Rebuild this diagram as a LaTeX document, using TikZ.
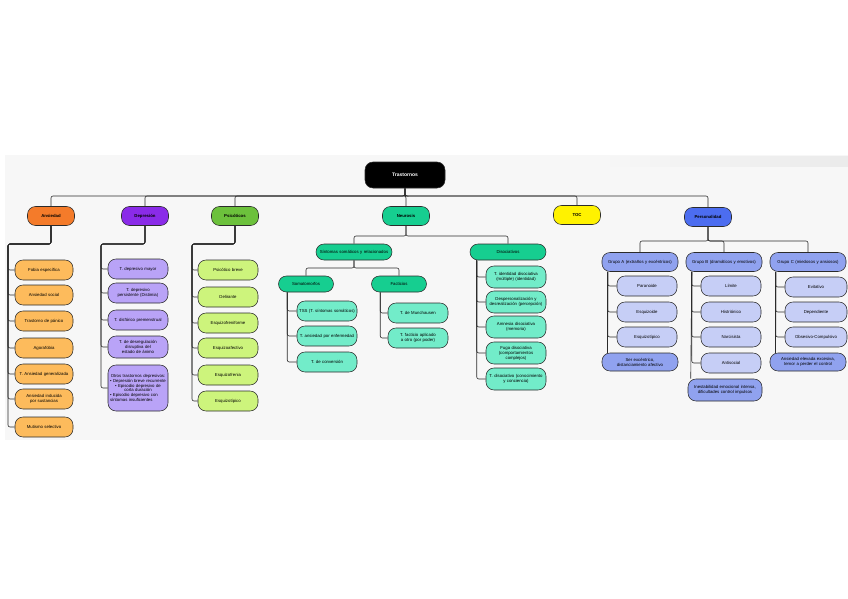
\documentclass[tikz,border=0pt]{standalone}
\usepackage{fontspec}
\setmainfont{Liberation Sans}
\usetikzlibrary{positioning}
\definecolor{ink}{HTML}{2B2B2B}
\definecolor{panel}{HTML}{F7F7F7}
\definecolor{ansdark}{HTML}{F47B2A}
\definecolor{anslight}{HTML}{FDBB5C}
\definecolor{depdark}{HTML}{8A2BE8}
\definecolor{deplight}{HTML}{B9A3F7}
\definecolor{psidark}{HTML}{6CC13C}
\definecolor{psilight}{HTML}{CDF47C}
\definecolor{neudark}{HTML}{16CE90}
\definecolor{neulight}{HTML}{72ECC9}
\definecolor{tocyellow}{HTML}{FFF200}
\definecolor{perdark}{HTML}{4C6DF0}
\definecolor{permid}{HTML}{90A2EF}
\definecolor{perlight}{HTML}{C6CEF6}
\hyphenpenalty=10000
\exhyphenpenalty=10000
\tikzset{
  box/.style={draw=ink,rounded corners=8pt,line width=.55pt,align=center,inner sep=1pt,
    font=\fontsize{4.3}{4.9}\selectfont},
  root/.style={box,fill=black,text=white,minimum width=80pt,minimum height=26pt,
    font=\fontsize{5}{6}\selectfont\bfseries},
  head/.style={box,minimum width=47pt,minimum height=19pt,font=\fontsize{4.3}{4.9}\selectfont\bfseries},
  sub/.style={box,minimum width=76pt,minimum height=17pt,text width=72pt},
  leaf/.style={box,minimum width=60pt,minimum height=20pt,text width=56pt},
  link/.style={draw=ink,line width=.6pt,rounded corners=2pt},
}
\begin{document}
\begin{tikzpicture}[x=1pt,y=-1pt]
  \useasboundingbox (0,0) rectangle (848,599);
  \fill[panel] (5,155) rectangle (848,440);
  \shade[left color=panel,right color=black!8] (600,156) rectangle (848,166);

  % raiz y ramas principales
  \node[root] (tras) at (405,175) {Trastornos};
  \node[head,fill=ansdark] (ans) at (51,216) {Ansiedad};
  \node[head,fill=depdark] (dep) at (145,216) {Depresión};
  \node[head,fill=psidark] (psi) at (235,216) {Psicóticos};
  \node[head,fill=neudark] (neu) at (406,216) {Neurosis};
  \node[head,fill=tocyellow] (toc) at (577,215) {TOC};
  \node[head,fill=perdark] (per) at (708,217) {Personalidad};
  \coordinate (tbus) at (405,196);
  \foreach \n in {ans,dep,psi,neu,toc,per}
    \draw[link] (tras.south) -- (tras.south |- tbus) -| (\n.north);

  % ansiedad
  \node[leaf,fill=anslight,minimum width=58pt,text width=54pt] (a1) at (44,270) {Fobia específica};
  \node[leaf,fill=anslight,minimum width=58pt,text width=54pt] (a2) at (44,295) {Ansiedad social};
  \node[leaf,fill=anslight,minimum width=58pt,text width=54pt] (a3) at (44,321) {Trastorno de pánico};
  \node[leaf,fill=anslight,minimum width=58pt,text width=54pt] (a4) at (44,348) {Agorafobia};
  \node[leaf,fill=anslight,minimum width=58pt,text width=54pt] (a5) at (44,374) {T. Ansiedad generalizada};
  \node[leaf,fill=anslight,minimum width=58pt,text width=54pt] (a6) at (44,399) {Ansiedad inducida por sustancias};
  \node[leaf,fill=anslight,minimum width=58pt,text width=54pt] (a7) at (44,427) {Mutismo selectivo};
  \coordinate (abus) at (8,244);
  \foreach \n in {a1,a2,a3,a4,a5,a6,a7}
    \draw[link] (ans.south) |- (abus) |- (\n.west);

  % depresion
  \node[leaf,fill=deplight] (d1) at (138,269) {T. depresivo mayor};
  \node[leaf,fill=deplight] (d2) at (138,293) {T. depresivo persistente (Distimia)};
  \node[leaf,fill=deplight] (d3) at (138,320) {T. disfórico premenstrual};
  \node[leaf,fill=deplight,minimum height=22pt] (d4) at (138,347) {T. de desregulación disruptiva del estado de ánimo};
  \node[leaf,fill=deplight,minimum height=46pt,align=left] (d5) at (138,388)
    {\centering Otros trastornos depresivos:\par
     • Depresión breve recurrente\par
     • Episodio depresivo de corta duración\par
     • Episodio depresivo con síntomas insuficientes};
  \coordinate (dbus) at (101,244);
  \foreach \n in {d1,d2,d3,d4,d5}
    \draw[link] (dep.south) |- (dbus) |- (\n.west);

  % psicoticos
  \node[leaf,fill=psilight] (p1) at (228,270) {Psicótico breve};
  \node[leaf,fill=psilight] (p2) at (228,297) {Delirante};
  \node[leaf,fill=psilight] (p3) at (228,323) {Esquizofreniforme};
  \node[leaf,fill=psilight] (p4) at (228,348) {Esquizoafectivo};
  \node[leaf,fill=psilight] (p5) at (228,375) {Esquizofrenia};
  \node[leaf,fill=psilight] (p6) at (228,401) {Esquizotípico};
  \coordinate (pbus) at (192,244);
  \foreach \n in {p1,p2,p3,p4,p5,p6}
    \draw[link] (psi.south) |- (pbus) |- (\n.west);

  % neurosis
  \node[sub,fill=neudark,minimum height=16pt] (som) at (354,252) {Síntomas somáticos y relacionados};
  \node[sub,fill=neudark,minimum height=16pt] (dis) at (508,252) {Disociativos};
  \coordinate (nbus) at (406,236);
  \foreach \n in {som,dis}
    \draw[link] (neu.south) -- (neu.south |- nbus) -| (\n.north);
  \node[box,fill=neudark,minimum width=55pt,minimum height=16pt] (soma) at (306,284) {Somatomorfos};
  \node[box,fill=neudark,minimum width=55pt,minimum height=16pt] (fac) at (399,284) {Facticios};
  \coordinate (sbus) at (354,268);
  \foreach \n in {soma,fac}
    \draw[link] (som.south) -- (som.south |- sbus) -| (\n.north);
  \node[leaf,fill=neulight] (s1) at (327,311) {TSS (T. síntomas somáticos)};
  \node[leaf,fill=neulight] (s2) at (327,336) {T. ansiedad por enfermedad};
  \node[leaf,fill=neulight] (s3) at (327,362) {T. de conversión};
  \foreach \n in {s1,s2,s3}
    \draw[link] ([xshift=9pt]soma.south west) |- (\n.west);
  \node[leaf,fill=neulight] (f1) at (418,313) {T. de Munchausen};
  \node[leaf,fill=neulight] (f2) at (418,338) {T. facticio aplicado a otro (por poder)};
  \foreach \n in {f1,f2}
    \draw[link] ([xshift=9pt]fac.south west) |- (\n.west);
  \node[leaf,fill=neulight,minimum height=22pt] (di1) at (516,277) {T. identidad disociativa (múltiple) (identidad)};
  \node[leaf,fill=neulight,minimum height=22pt] (di2) at (516,302) {Despersonalización y desrealización (percepción)};
  \node[leaf,fill=neulight,minimum height=22pt] (di3) at (516,327) {Amnesia disociativa (memoria)};
  \node[leaf,fill=neulight,minimum height=22pt] (di4) at (516,353) {Fuga disociativa (comportamientos complejos)};
  \node[leaf,fill=neulight,minimum height=22pt] (di5) at (516,379) {T. disociativo (conocimiento y conciencia)};
  \foreach \n in {di1,di2,di3,di4,di5}
    \draw[link] ([xshift=7pt]dis.south west) |- (\n.west);

  % personalidad
  \node[sub,fill=permid,minimum height=19pt] (ga) at (640,262) {Grupo A (extraños y excéntricos)};
  \node[sub,fill=permid,minimum height=19pt] (gb) at (724,262) {Grupo B (dramáticos y emotivos)};
  \node[sub,fill=permid,minimum height=19pt] (gc) at (808,262) {Grupo C (miedosos y ansiosos)};
  \coordinate (gbus) at (708,241);
  \foreach \n in {ga,gb,gc}
    \draw[link] (per.south) -- (per.south |- gbus) -| (\n.north);
  \node[leaf,fill=perlight] (pa1) at (647,286) {Paranoide};
  \node[leaf,fill=perlight] (pa2) at (647,312) {Esquizoide};
  \node[leaf,fill=perlight] (pa3) at (647,337) {Esquizotípico};
  \node[sub,fill=permid,minimum height=18pt] (na) at (640,362) {Ser excéntrico, distanciamiento afectivo};
  \foreach \n in {pa1,pa2,pa3}
    \draw[link] ([xshift=6pt]ga.south west) |- (\n.west);
  \draw[link] ([xshift=6pt]ga.south west) -- ([xshift=6pt]na.north west);
  \node[leaf,fill=perlight] (pb1) at (731,286) {Límite};
  \node[leaf,fill=perlight] (pb2) at (731,312) {Histriónico};
  \node[leaf,fill=perlight] (pb3) at (731,337) {Narcisista};
  \node[leaf,fill=perlight] (pb4) at (731,363) {Antisocial};
  \node[sub,fill=permid,minimum width=74pt,text width=70pt,minimum height=22pt] (nb) at (725,390)
    {Inestabilidad emocional intensa, dificultades control impulsos};
  \foreach \n in {pb1,pb2,pb3,pb4}
    \draw[link] ([xshift=6pt]gb.south west) |- (\n.west);
  \draw[link] ([xshift=6pt]gb.south west) -- ([xshift=3pt]nb.north west);
  \node[leaf,fill=perlight,minimum width=62pt] (pc1) at (816,287) {Evitativo};
  \node[leaf,fill=perlight,minimum width=62pt] (pc2) at (816,312) {Dependiente};
  \node[leaf,fill=perlight,minimum width=62pt] (pc3) at (816,337) {Obsesivo-Compulsivo};
  \node[sub,fill=permid,minimum height=18pt] (nc) at (808,362) {Ansiedad elevada excesiva, temor a perder el control};
  \foreach \n in {pc1,pc2,pc3}
    \draw[link] ([xshift=6pt]gc.south west) |- (\n.west);
  \draw[link] ([xshift=6pt]gc.south west) -- ([xshift=6pt]nc.north west);
\end{tikzpicture}
\end{document}
